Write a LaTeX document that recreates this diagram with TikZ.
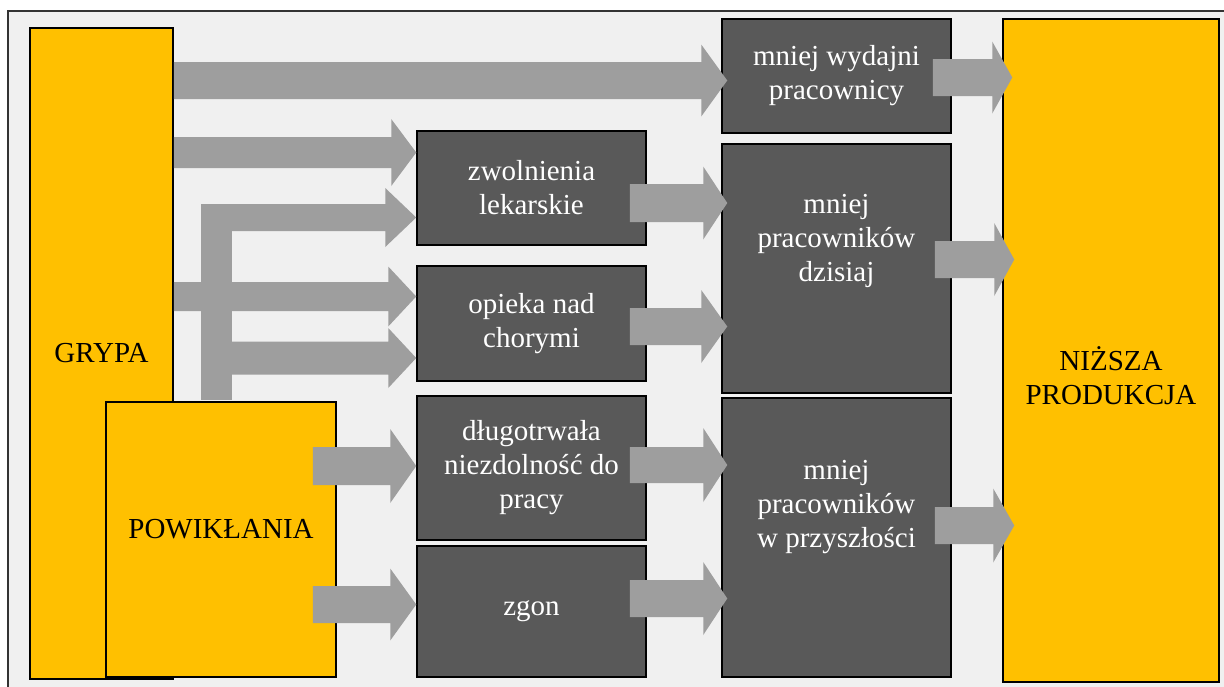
\documentclass[tikz,border=0pt]{standalone}
\usepackage{fontspec}
\setmainfont{Liberation Serif}
\usetikzlibrary{positioning}
\usetikzlibrary{calc}

\definecolor{boxyellow}{HTML}{FFC000}
\definecolor{boxgrey}{HTML}{595959}
\definecolor{arrowgrey}{HTML}{9E9E9E}
\definecolor{backgrey}{HTML}{F0F0F0}

% block arrow: start, tip, shaft half width, head half width, head length
\newcommand{\fatarrow}[5]{%
\fill[arrowgrey] let \p1=#1, \p2=#2 in
  (\x1,\y2+#3) -- (\x2-#5,\y2+#3) -- (\x2-#5,\y2+#4) -- (\x2,\y2)
  -- (\x2-#5,\y2-#4) -- (\x2-#5,\y2-#3) -- (\x1,\y2-#3) -- cycle;}

\begin{document}
\begin{tikzpicture}[x=1pt,y=-1pt]
\tikzstyle{yellowbox}=[rectangle,draw=black,line width=1.5pt,fill=boxyellow,text=black,align=center,inner sep=0pt,font=\fontsize{29}{34}\selectfont]
\tikzstyle{greybox}=[rectangle,draw=black,line width=1.5pt,fill=boxgrey,text=white,align=center,inner sep=0pt,font=\fontsize{29}{34}\selectfont]
\tikzstyle{boxtext}=[align=center,inner sep=0pt,font=\fontsize{29}{34}\selectfont]

\useasboundingbox (0,0) rectangle (1224,686);
\clip (0,0) rectangle (1224,686);
\draw[draw=black!80,fill=backgrey,line width=1.2pt] (8,11) rectangle (1240,700);

% yellow causes and result
\node[yellowbox,minimum width=143pt,minimum height=651pt](grypa) at (101.5,353.5){GRYPA};
\node[yellowbox,minimum width=230pt,minimum height=275pt,
  label={[boxtext,yshift=10pt]center:POWIKŁANIA}](powik) at (221,539.5){};
\node[yellowbox,minimum width=216pt,minimum height=663pt,
  label={[boxtext,yshift=-25pt]center:NIŻSZA\\PRODUKCJA}](nizsza) at (1111,350.5){};

% middle column
\node[greybox,minimum width=229pt,minimum height=114pt](zwol) at (531.5,188){zwolnienia\\lekarskie};
\node[greybox,minimum width=229pt,minimum height=115pt](opieka) at (531.5,323.5){opieka nad\\chorymi};
\node[greybox,minimum width=229pt,minimum height=144pt](dlugo) at (531.5,468){długotrwała\\niezdolność do\\pracy};
\node[greybox,minimum width=229pt,minimum height=131pt](zgon) at (531.5,611.5){zgon};

% right column
\node[greybox,minimum width=229pt,minimum height=114pt](wydajni) at (836.5,76){mniej wydajni\\pracownicy};
\node[greybox,minimum width=229pt,minimum height=249pt,
  label={[boxtext,text=white,yshift=28pt]center:mniej\\pracowników\\dzisiaj}](dzis) at (836.5,268.5){};
\node[greybox,minimum width=229pt,minimum height=279pt,
  label={[boxtext,text=white,yshift=30pt]center:mniej\\pracowników\\w przyszłości}](przysz) at (836.5,537.5){};

% arrows from GRYPA
\fatarrow{(grypa.east)}{($(wydajni.west |- 0,80.5)+(6,0)$)}{18.5pt}{36pt}{26pt}
\fatarrow{(grypa.east)}{(zwol.west |- 0,152.5)}{15.5pt}{33.5pt}{25pt}
\fatarrow{(grypa.east)}{(opieka.west |- 0,296.5)}{14.5pt}{30pt}{28pt}

% bent arrow from POWIKLANIA
\fill[arrowgrey] (201,204) rectangle ($(232,0 |- powik.north)+(0,-1)$);
\fatarrow{(201,0)}{(zwol.west |- 0,217.5)}{13.5pt}{29.5pt}{31pt}
\fatarrow{(201,0)}{(opieka.west |- 0,358)}{16.5pt}{30pt}{28pt}

\fatarrow{($(powik.east)+(-24,0)$)}{(dlugo.west |- 0,466)}{19pt}{37pt}{26pt}
\fatarrow{($(powik.east)+(-24,0)$)}{(zgon.west |- 0,604.5)}{18.5pt}{36pt}{26pt}

% middle to right
\fatarrow{($(zwol.east)+(-17,0)$)}{($(dzis.west |- 0,203)+(6,0)$)}{19pt}{36.5pt}{24pt}
\fatarrow{($(opieka.east)+(-17,0)$)}{($(dzis.west |- 0,326.5)+(6,0)$)}{18.5pt}{36.5pt}{26pt}
\fatarrow{($(dlugo.east)+(-17,0)$)}{($(przysz.west |- 0,465)+(6,0)$)}{18pt}{37pt}{24pt}
\fatarrow{($(zgon.east)+(-17,0)$)}{($(przysz.west |- 0,598.5)+(6,0)$)}{18.5pt}{36.5pt}{24pt}

% into NIZSZA PRODUKCJA
\fatarrow{($(wydajni.east)+(-19,0)$)}{($(nizsza.west |- 0,77.5)+(10,0)$)}{18.5pt}{36pt}{20pt}
\fatarrow{($(dzis.east)+(-17,0)$)}{($(nizsza.west |- 0,259.5)+(12,0)$)}{18.5pt}{36.5pt}{20pt}
\fatarrow{($(przysz.east)+(-17,0)$)}{($(nizsza.west |- 0,525.5)+(12,0)$)}{18.5pt}{37pt}{21pt}
\end{tikzpicture}
\end{document}
